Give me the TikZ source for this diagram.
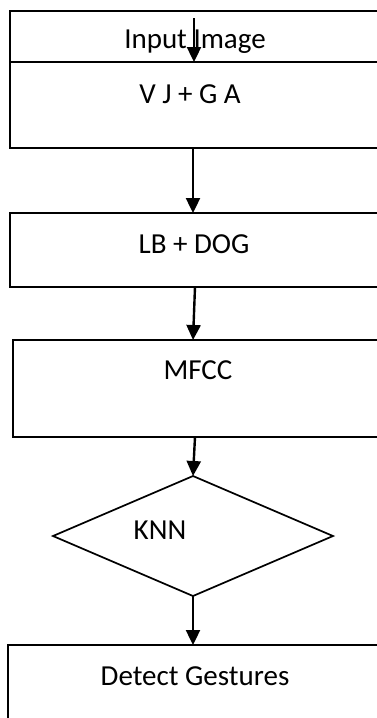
\documentclass[tikz,border=0pt]{standalone}
\usepackage{fontspec}
\setmainfont{Carlito}
\usetikzlibrary{shapes.geometric,arrows.meta}
\begin{document}
\begin{tikzpicture}[x=1pt,y=1pt,
  box/.style={draw,line width=1.7pt,rectangle,inner sep=0pt,outer sep=0pt,anchor=north west},
  lbl/.style={font=\fontsize{29}{34}\selectfont,anchor=base,inner sep=0pt},
  arr/.style={line width=2.4pt,-{Triangle[length=15pt,width=14pt]}},
  decision/.style={draw,diamond,line width=1.7pt,inner sep=0pt,outer sep=0pt,minimum width=280pt,minimum height=120pt}]
\useasboundingbox (0,0) rectangle (377,-718);
\clip (0,0) rectangle (377,-718);
% boxes
\node[box,minimum width=380pt,minimum height=51pt] (inp) at (10,-11) {};
\node[box,minimum width=380pt,minimum height=86pt] (vj) at (10,-62) {};
\node[box,minimum width=380pt,minimum height=74pt] (lb) at (10,-213) {};
\node[box,minimum width=377pt,minimum height=97pt] (mfcc) at (13,-340) {};
\node[decision] (knn) at (193,-536) {};
\node[box,minimum width=382pt,minimum height=90pt] (det) at (8,-645) {};
% labels
\node[lbl] (tinp) at (195,-48) {Input Image};
\node[lbl] (tvj) at (190,-103) {V J + G A};
\node[lbl] (tlb) at (194,-253) {LB + DOG};
\node[lbl] (tmfcc) at (198,-379) {MFCC};
\node[lbl] (tknn) at (160,-539) {KNN};
\node[lbl] (tdet) at (195,-685) {Detect Gestures};
% arrows
\coordinate (s0) at (194,-18);
\draw[arr] (s0) -- ([xshift=184pt]vj.north west);
\draw[arr] ([xshift=183pt]vj.south west) -- ([xshift=183pt]lb.north west);
\draw[arr] ([xshift=185pt]lb.south west) -- ([xshift=180pt]mfcc.north west);
\draw[arr] ([xshift=182pt]mfcc.south west) -- (knn.north);
\draw[arr] (knn.south) -- ([xshift=185pt]det.north west);
\end{tikzpicture}
\end{document}
